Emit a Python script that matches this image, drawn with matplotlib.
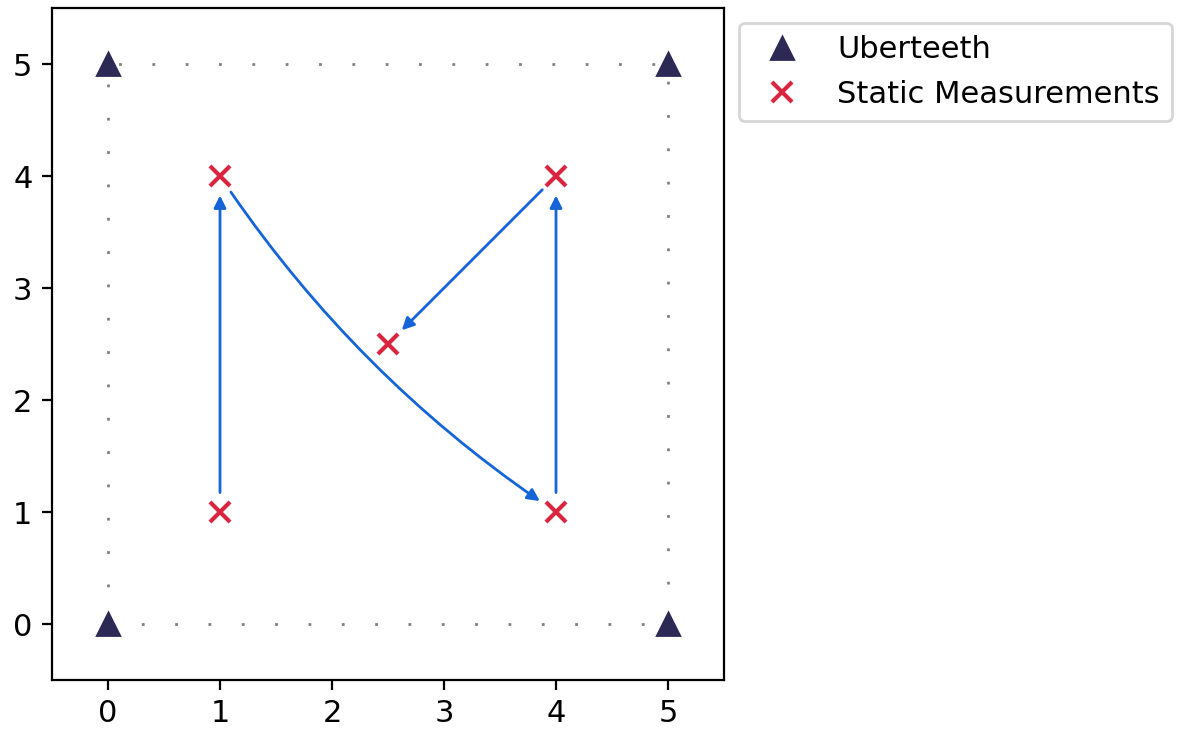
import matplotlib
matplotlib.use("Agg")
import matplotlib.pyplot as plt

plt.rcParams["font.size"] = 11

# Uberteeth receivers at the corners of the room (listed in boundary order)
uber_x = [0, 5, 5, 0]
uber_y = [0, 0, 5, 5]

# static measurement spots, in the order they were visited
meas_x = [1, 1, 4, 4, 2.5]
meas_y = [1, 4, 1, 4, 2.5]
# curvature of each leg of the walk
leg_rad = [0, 0.1, 0, 0]

fig = plt.figure(figsize=(1177 / 200, 731 / 200), dpi=200)
ax = fig.add_axes([52 / 1177, 51 / 731, 672 / 1177, 672 / 731])

# dotted outline between the receivers
ax.plot(uber_x + uber_x[:1], uber_y + uber_y[:1], color="grey",
        lw=1, linestyle=(0, (1, 11)), zorder=1)

ax.plot(uber_x, uber_y, linestyle="", marker="^", markersize=8,
        color="#2c2955", label="Uberteeth", zorder=3)
ax.plot(meas_x, meas_y, linestyle="", marker="x", markersize=7,
        markeredgewidth=1.5, color="#d7263d", label="Static Measurements", zorder=3)

# arrows showing the walk between measurement spots
for i in range(len(meas_x) - 1):
    ax.annotate("", xy=(meas_x[i + 1], meas_y[i + 1]), xytext=(meas_x[i], meas_y[i]),
                arrowprops=dict(arrowstyle="-|>", color="#1565d8", lw=1,
                                shrinkA=7, shrinkB=7, mutation_scale=9,
                                connectionstyle="arc3,rad=%s" % leg_rad[i]),
                zorder=2)

ax.set_xlim(-0.5, 5.5)
ax.set_ylim(-0.5, 5.5)
ax.set_xticks(range(6))
ax.set_yticks(range(6))
ax.legend(loc="upper left", bbox_to_anchor=(1, 1))

fig.savefig("out.png", dpi=200)
